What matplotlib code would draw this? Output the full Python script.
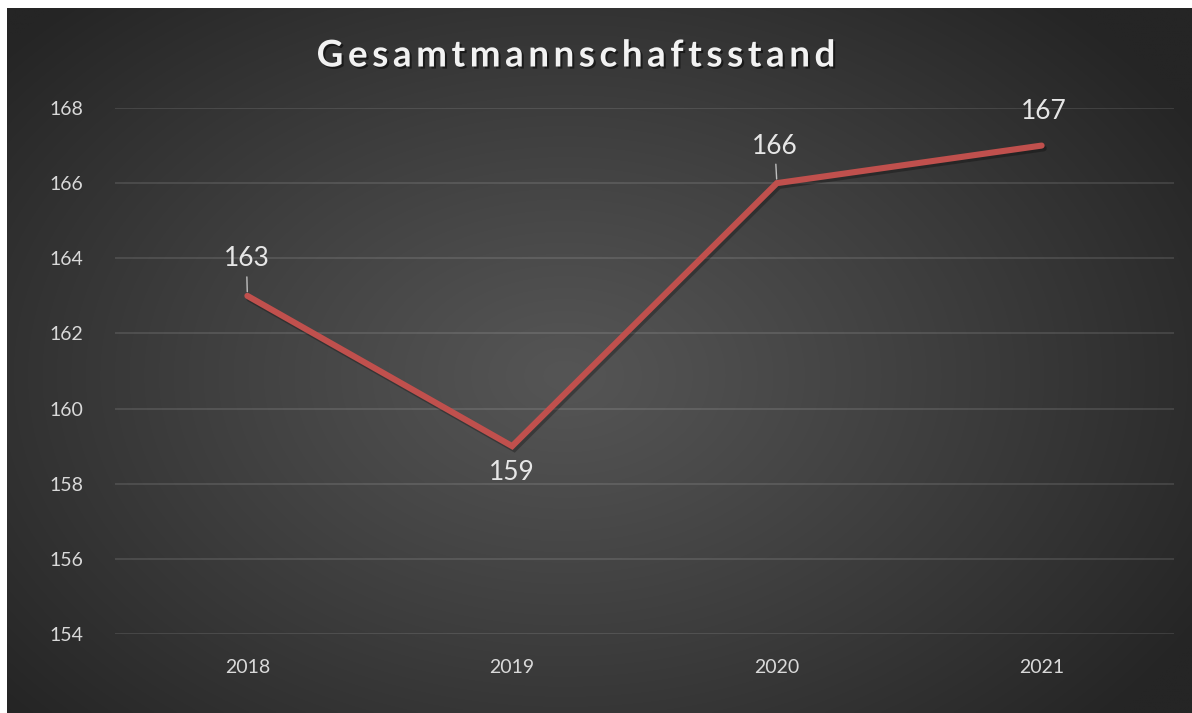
import numpy as np
import matplotlib
matplotlib.use("Agg")
import matplotlib.pyplot as plt
import matplotlib.patheffects as pe

years = ["2018", "2019", "2020", "2021"]
values = [163, 159, 166, 167]
yticks = [154, 156, 158, 160, 162, 164, 166, 168]
title = "Gesamtmannschaftsstand"

W, H = 1192, 713
fig = plt.figure(figsize=(W / 100, H / 100), dpi=100, facecolor="white")

# background panel with radial gradient
bg = fig.add_axes([7 / W, 0, (W - 7) / W, (H - 8) / H])
bg.set_axis_off()
ny, nx = 300, 500
yy, xx = np.mgrid[0:ny, 0:nx]
cx, cy = 0.47 * nx, 0.52 * ny
r = np.sqrt(((xx - cx) / (nx * 0.62)) ** 2 + ((yy - cy) / (ny * 0.72)) ** 2)
r = np.clip(r, 0, 1)
c0, c1 = 0x55 / 255, 0x25 / 255
grad = c0 + (c1 - c0) * r ** 1.1
img = np.dstack([grad, grad, grad])
bg.imshow(img, aspect="auto", extent=[0, 1, 0, 1], interpolation="bilinear")
bg.set_xlim(0, 1)
bg.set_ylim(0, 1)

ax = fig.add_axes([115 / W, (H - 634) / H, (1174 - 115) / W, (634 - 108) / H])
ax.patch.set_alpha(0)
for s in ax.spines.values():
    s.set_visible(False)

x = np.arange(len(years))
ax.plot(x, values, color="#C0504D", lw=4.4, solid_capstyle="round", solid_joinstyle="miter",
        path_effects=[pe.SimpleLineShadow(offset=(1.5, -2), shadow_color="black", alpha=0.28),
                      pe.Normal()], zorder=3)

ax.set_xlim(-0.5, len(years) - 0.5)
ax.set_ylim(154, 168)
ax.set_yticks(yticks)
ax.set_xticks(x)
ax.set_xticklabels(years)
ax.grid(axis="y", color="white", alpha=0.11, lw=1.5)
ax.set_axisbelow(True)
ax.tick_params(length=0, colors="#d9d9d9", labelsize=14, labelfontfamily="Lato")
ax.tick_params(axis="y", pad=23)
ax.tick_params(axis="x", pad=18)
for lbl in ax.get_xticklabels() + ax.get_yticklabels():
    lbl.set_color("#d9d9d9")

# data labels
offsets = [(-1, 37), (0, -26), (-2, 37), (2, 34)]
leaders = [True, False, True, False]
for xi, v, (dx, dy), ld in zip(x, values, offsets, leaders):
    ax.annotate(str(v), (xi, v), xytext=(dx, dy), textcoords="offset pixels",
                ha="center", va="center", color="#e6e6e6", fontsize=19, family="Lato",
                arrowprops=dict(arrowstyle="-", color="#bfbfbf", lw=1, shrinkA=2, shrinkB=3) if ld else None,
                zorder=4)

# title with letter spacing
fig.canvas.draw()
renderer = fig.canvas.get_renderer()
fs = 26.5
spacing = 4.6  # px
widths = []
for ch in title:
    t = fig.text(0, 0, ch, fontsize=fs, fontweight="bold", family="Lato")
    widths.append(t.get_window_extent(renderer).width)
    t.remove()
total = sum(widths) + spacing * (len(title) - 1)
xc, yc = 576, H - 56
xpos = xc - total / 2
for ch, w in zip(title, widths):
    fig.text(xpos / W, yc / H, ch, fontsize=fs, fontweight="bold", family="Lato",
             color="#f2f2f2", va="center", ha="left",
             path_effects=[pe.withSimplePatchShadow(offset=(1.5, -1.5), shadow_rgbFace="black", alpha=0.5)])
    xpos += w + spacing

fig.savefig("out.png", dpi=100, facecolor="white")
